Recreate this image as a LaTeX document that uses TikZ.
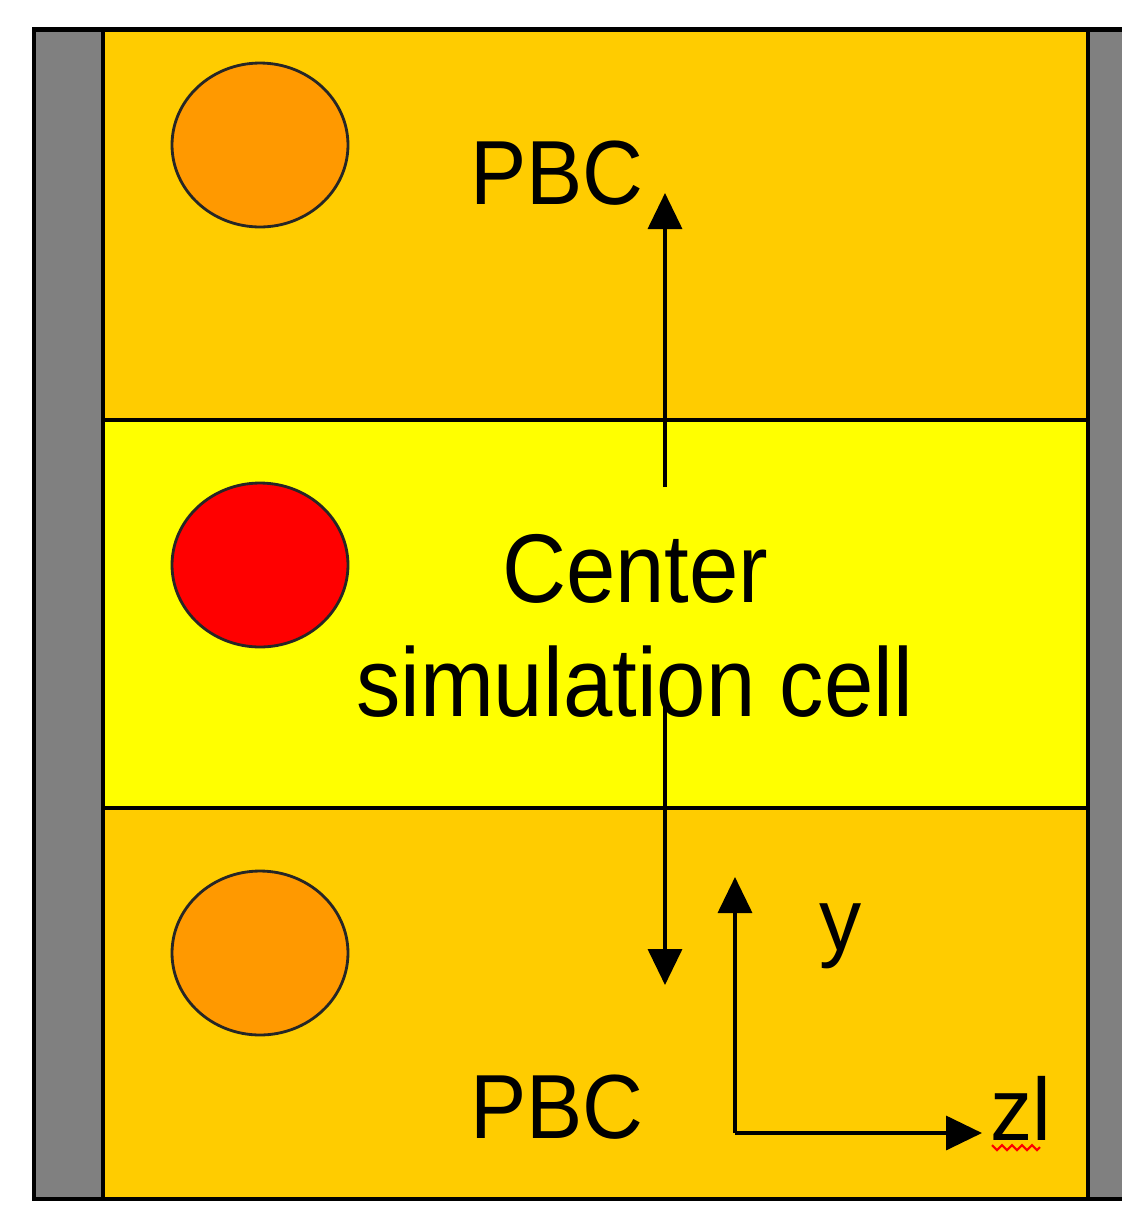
\documentclass[tikz,border=0pt]{standalone}
\usepackage{fontspec}
\setmainfont{Liberation Sans}
\usepackage{graphicx}
\usetikzlibrary{arrows.meta}
\definecolor{cellorange}{HTML}{FFCC00}
\definecolor{cellyellow}{HTML}{FFFF00}
\definecolor{wallgray}{HTML}{808080}
\definecolor{atomorange}{HTML}{FF9900}
\definecolor{atomred}{HTML}{FF0000}
\newcommand{\tall}[2]{\scalebox{1}[#1]{#2}}

\begin{document}
\begin{tikzpicture}[x=0.02cm, y=-0.02cm, line width=2.3pt,
  lbl/.style={anchor=base west, inner sep=0pt, font=\fontsize{48}{58}\selectfont},
  biglbl/.style={lbl, font=\fontsize{50.5}{60}\selectfont},
  axarrow/.style={-{Triangle[length=0.72cm,width=0.68cm]}, line width=2pt}]
\useasboundingbox (0,0) rectangle (1122,1205);
% side walls
\fill[wallgray] (34,29.5) rectangle (103,1199);
\fill[wallgray] (1088,29.5) rectangle (1122,1199);
% periodic image, center cell, periodic image
\fill[cellorange] (103,29.5) rectangle (1088,420);
\fill[cellyellow] (103,420) rectangle (1088,808);
\fill[cellorange] (103,808) rectangle (1088,1199);
% frame and cell borders
\draw (1122,29.5) -- (34,29.5) -- (34,1199) -- (1122,1199);
\draw (103,29.5) -- (103,1199);
\draw (1088,29.5) -- (1088,1199);
\draw (103,420) -- (1088,420);
\draw (103,808) -- (1088,808);
% particles
\foreach \yc/\col in {145/atomorange, 565/atomred, 953/atomorange}{
  \draw[line width=1.6pt, draw=black!85, fill=\col] (260,\yc) ellipse [x radius=1.76cm, y radius=1.64cm];}
% PBC arrows
\coordinate (uptail) at (665,487);
\coordinate (uptip) at (665,193);
\coordinate (downtail) at (665,690);
\coordinate (downtip) at (665,985);
\draw[axarrow] (uptail) -- (uptip);
\draw[axarrow] (downtail) -- (downtip);
% axes
\coordinate (origin) at (735,1133);
\coordinate (yend) at (735,877);
\coordinate (zend) at (982,1133);
\draw[axarrow] (origin) -- (yend);
\draw[axarrow] (origin) -- (zend);
% labels
\node[lbl] (pbctop) at (468,204) {\tall{1.08}{PBC}};
\node[lbl] (pbcbot) at (468,1138) {\tall{1.08}{PBC}};
\node[biglbl] (center) at (500,602) {\tall{1.1}{Center}};
\node[biglbl] (simcell) at (354,716) {\tall{1.1}{simulation cell}};
\node[lbl] (ylbl) at (817,950) {\tall{1.05}{y}};
\node[lbl] (zlbl) at (988,1140) {\tall{1.05}{zl}};
\draw[red, line width=1.2pt] (992,1145) -- (997,1150) -- (1002,1145) -- (1007,1150) -- (1012,1145)
  -- (1017,1150) -- (1022,1145) -- (1027,1150) -- (1032,1145) -- (1037,1150) -- (1040,1147);
\end{tikzpicture}
\end{document}
